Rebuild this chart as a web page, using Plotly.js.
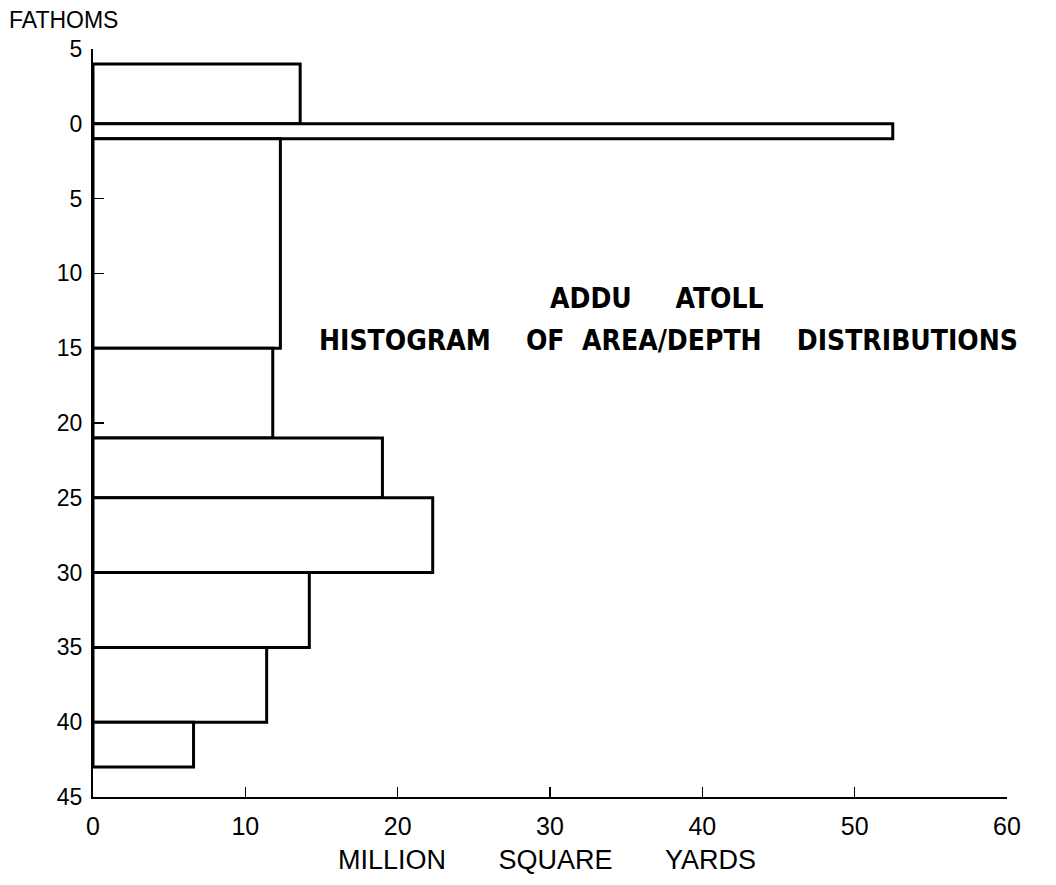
<!DOCTYPE html>
<html>
<head>
<meta charset="utf-8">
<script src="https://cdn.plot.ly/plotly-3.0.1.min.js"></script>
<style>
html,body{margin:0;padding:0;background:#fff;}
#chart{width:1056px;height:885px;}
</style>
</head>
<body>
<div id="chart"></div>
<script>
// Depth class edges in fathoms (negative = above datum) and area per class
const depthEdges = [-4, 0, 1, 15, 21, 25, 30, 35, 40, 43];
const areaMillionSqYd = [13.6, 52.5, 12.3, 11.8, 19.0, 22.3, 14.2, 11.4, 6.6];
const yTickVals = [-5, 0, 5, 10, 15, 20, 25, 30, 35, 40, 45];
const yTickText = ["5", "0", "5", "10", "15", "20", "25", "30", "35", "40", "45"];
const xTickVals = [0, 10, 20, 30, 40, 50, 60];

const centers = [], thick = [];
for (let i = 0; i < areaMillionSqYd.length; i++) {
  centers.push((depthEdges[i] + depthEdges[i + 1]) / 2);
  thick.push(depthEdges[i + 1] - depthEdges[i]);
}

const font = "Liberation Sans, DejaVu Sans, sans-serif";
const narrow = "DejaVu Sans Condensed, Liberation Sans, sans-serif";
const sp = n => "&nbsp;".repeat(n);

const trace = {
  type: "bar",
  orientation: "h",
  x: areaMillionSqYd,
  y: centers,
  width: thick,
  marker: {color: "#ffffff", line: {color: "#000000", width: 3}},
  hoverinfo: "x+y"
};

const layout = {
  width: 1056, height: 885,
  margin: {l: 93, r: 49, t: 49, b: 88},
  paper_bgcolor: "#ffffff", plot_bgcolor: "#ffffff",
  showlegend: false,
  font: {family: font, color: "#000", size: 20},
  xaxis: {
    range: [0, 60], tickvals: xTickVals, ticks: "inside", ticklen: 10, tickwidth: 1.5,
    tickcolor: "#000", showline: true, linecolor: "#000", linewidth: 2, showgrid: false,
    zeroline: false, ticklabelstandoff: 6, tickfont: {size: 25, family: font},
    title: {text: ""}
  },
  yaxis: {
    range: [45, -5], tickvals: yTickVals, ticktext: yTickText, ticks: "inside", ticklen: 11,
    tickwidth: 1.5, tickcolor: "#000", showline: true, linecolor: "#000", linewidth: 2,
    showgrid: false, zeroline: false, tickfont: {size: 23, family: font}, ticklabelstandoff: 4
  },
  annotations: [
    {text: "FATHOMS", xref: "paper", yref: "paper", x: -0.094, y: 1.039, xanchor: "left", yanchor: "middle",
     showarrow: false, font: {size: 23, family: font}},
    {text: "MILLION" + sp(7) + "SQUARE" + sp(7) + "YARDS", xref: "paper", yref: "paper", x: 0.497, y: -0.084,
     xanchor: "center", yanchor: "middle", showarrow: false, font: {size: 27, family: font}},
    {text: "<b>ADDU" + sp(5) + "ATOLL</b>", xref: "x", yref: "y", x: 37.0, y: 11.7, xanchor: "center",
     yanchor: "middle", showarrow: false, font: {size: 28, family: narrow}},
    {text: "<b>HISTOGRAM" + sp(4) + "OF" + sp(2) + "AREA/DEPTH" + sp(4) + "DISTRIBUTIONS</b>", xref: "x", yref: "y",
     x: 37.8, y: 14.5, xanchor: "center", yanchor: "middle", showarrow: false, font: {size: 28, family: narrow}}
  ]
};

Plotly.newPlot("chart", [trace], layout, {displayModeBar: false, staticPlot: true});
</script>
</body>
</html>
